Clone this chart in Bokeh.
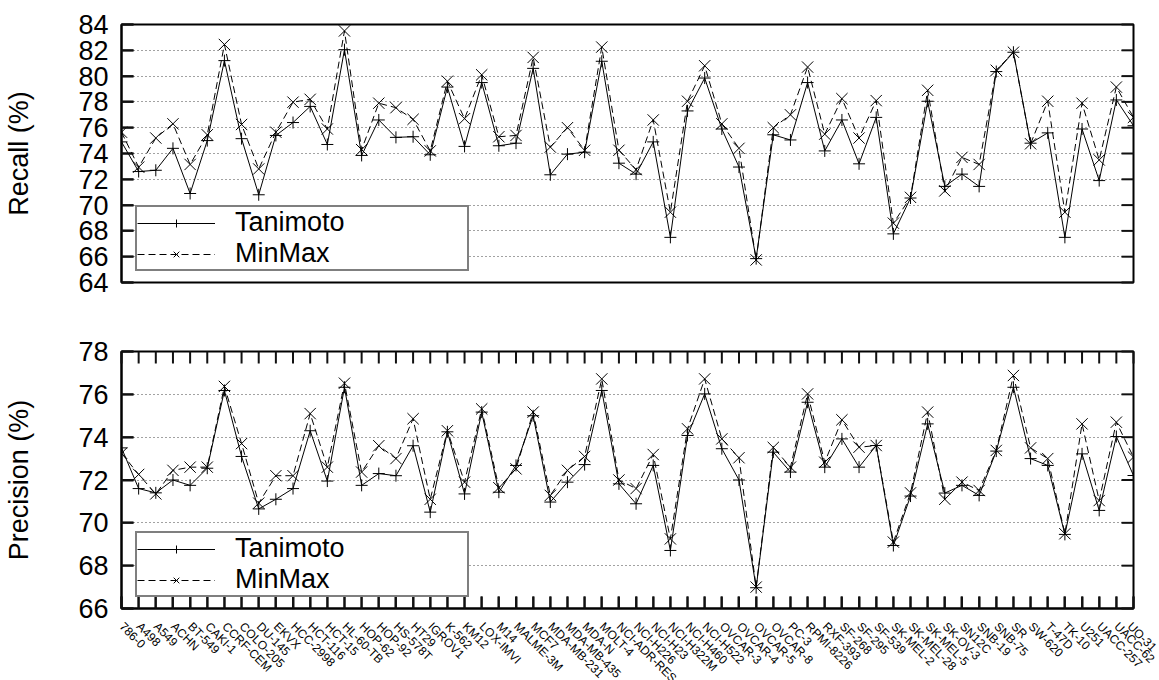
import math
from bokeh.plotting import figure
from bokeh.models import Range1d, FixedTicker, Legend, LegendItem
from bokeh.layouts import column
from bokeh.embed import file_html
from bokeh.resources import INLINE

cell_lines = [
    "786-0", "A498", "A549", "ACHN", "BT-549", "CAKI-1", "CCRF-CEM", "COLO-205",
    "DU-145", "EKVX", "HCC-2998", "HCT-116", "HCT-15", "HL-60-TB", "HOP-62",
    "HOP-92", "HS-578T", "HT29", "IGROV1", "K-562", "KM12", "LOX-IMVI", "M14",
    "MALME-3M", "MCF7", "MDA-MB-231", "MDA-MB-435", "MDA-N", "MOLT-4",
    "NCI-ADR-RES", "NCI-H226", "NCI-H23", "NCI-H322M", "NCI-H460", "NCI-H522",
    "OVCAR-3", "OVCAR-4", "OVCAR-5", "OVCAR-8", "PC-3", "RPMI-8226", "RXF-393",
    "SF-268", "SF-295", "SF-539", "SK-MEL-2", "SK-MEL-28", "SK-MEL-5", "SK-OV-3",
    "SN12C", "SNB-19", "SNB-75", "SR", "SW-620", "T-47D", "TK-10", "U251",
    "UACC-257", "UACC-62", "UO-31",
]

recall_tanimoto = [
    74.9, 72.6, 72.7, 74.4, 70.9, 75.0, 81.2, 75.15, 70.8, 75.4,
    76.4, 77.65, 74.7, 82.05, 73.85, 76.6, 75.25, 75.3, 73.9, 79.15,
    74.55, 79.5, 74.6, 74.8, 80.6, 72.35, 73.95, 74.1, 81.15, 73.25,
    72.4, 74.9, 67.5, 77.3, 79.85, 75.9, 72.95, 65.85, 75.45, 75.05,
    79.5, 74.2, 76.6, 73.2, 76.8, 67.77, 70.55, 78.05, 71.45, 72.4,
    71.45, 80.35, 81.85, 74.8, 75.6, 67.5, 75.9, 71.9, 78.15, 76.15,
]
recall_minmax = [
    75.65, 72.94, 75.2, 76.3, 73.15, 75.45, 82.45, 76.25, 72.8, 75.65,
    77.98, 78.2, 75.9, 83.5, 74.3, 77.9, 77.55, 76.65, 74.2, 79.6,
    76.7, 80.1, 75.3, 75.4, 81.45, 74.5, 76.0, 74.25, 82.25, 74.25,
    72.75, 76.6, 69.45, 78.05, 80.8, 76.3, 74.4, 65.75, 76.0, 77.0,
    80.7, 75.5, 78.25, 75.2, 78.1, 68.6, 70.6, 78.9, 71.1, 73.7,
    73.15, 80.45, 81.85, 74.75, 78.05, 69.45, 77.9, 73.5, 79.15, 76.8,
]
precision_tanimoto = [
    73.5, 71.6, 71.4, 72.0, 71.75, 72.55, 76.18, 73.1, 70.65, 71.1,
    71.6, 74.3, 71.95, 76.33, 71.75, 72.3, 72.2, 73.6, 70.5, 74.25,
    71.35, 75.17, 71.43, 72.68, 75.0, 70.97, 71.9, 72.72, 76.18, 71.82,
    70.89, 72.68, 68.71, 74.08, 76.02, 73.46, 72.0, 66.97, 73.3, 72.37,
    75.63, 72.6, 73.92, 72.6, 73.61, 68.94, 71.25, 74.62, 71.39, 71.75,
    71.28, 73.35, 76.33, 73.0, 72.68, 69.46, 73.22, 70.58, 74.03, 72.21,
]
precision_minmax = [
    73.25, 72.26, 71.35, 72.45, 72.6, 72.6, 76.37, 73.7, 70.92, 72.2,
    72.2, 75.1, 72.6, 76.52, 72.37, 73.6, 73.0, 74.86, 71.1, 74.3,
    71.9, 75.32, 71.64, 72.52, 75.17, 71.28, 72.45, 73.1, 76.72, 72.0,
    71.6, 73.19, 69.25, 74.39, 76.72, 73.92, 73.04, 67.0, 73.52, 72.6,
    76.02, 72.83, 74.81, 73.53, 73.61, 69.1, 71.4, 75.17, 71.1, 71.9,
    71.51, 73.38, 76.88, 73.5, 73.0, 69.49, 74.62, 71.04, 74.7, 73.07,
]

recall_ticks = [64, 66, 68, 70, 72, 74, 76, 78, 80, 82, 84]
precision_ticks = [66, 68, 70, 72, 74, 76, 78]

x_idx = list(range(len(cell_lines)))
FONT = "Liberation Sans"
BIG = "27px"
TICK_LEN = 12
TICK_W = 2
TICK_COLOR = "#111111"
RAY = dict(length=TICK_LEN, length_units="screen", line_color=TICK_COLOR,
           line_width=TICK_W, level="overlay")


def tick_axis(ax):
    ax.major_tick_in = TICK_LEN
    ax.major_tick_out = 0
    ax.major_tick_line_color = TICK_COLOR
    ax.major_tick_line_width = TICK_W
    ax.minor_tick_line_color = None
    ax.axis_line_color = "black"
    ax.axis_line_width = 2


def make_panel(ylabel, ylo, yhi, yticks, tani, minmax, frame_h, top_b, bottom_b, with_x):
    x_first, x_last = x_idx[0], x_idx[-1]
    p = figure(
        frame_width=1012, frame_height=frame_h,
        min_border_left=121, min_border_right=26,
        min_border_top=top_b, min_border_bottom=bottom_b,
        x_range=Range1d(x_first, x_last), y_range=Range1d(ylo, yhi),
        x_axis_location="below" if with_x else None,
        output_backend="svg", toolbar_location=None,
    )
    p.outline_line_color = "black"
    p.outline_line_width = 2
    p.xgrid.visible = False
    p.ygrid.ticker = FixedTicker(ticks=yticks)
    p.ygrid.grid_line_color = "#444444"
    p.ygrid.grid_line_dash = "1 3"
    p.ygrid.grid_line_width = 1

    yax = p.yaxis[0]
    yax.ticker = FixedTicker(ticks=yticks)
    tick_axis(yax)
    yax.major_label_text_font = FONT
    yax.major_label_text_font_size = BIG
    yax.major_label_text_color = "black"
    yax.major_label_standoff = 13
    yax.axis_label = ylabel
    yax.axis_label_text_font = FONT
    yax.axis_label_text_font_size = BIG
    yax.axis_label_text_font_style = "normal"
    yax.axis_label_text_color = "black"
    yax.axis_label_standoff = 41

    l1 = p.line(x_idx, tani, line_color="black", line_width=1)
    s1 = p.scatter(x_idx, tani, marker="cross", size=12, line_color="black", line_width=1)
    l2 = p.line(x_idx, minmax, line_color="black", line_width=1, line_dash="7 4")
    s2 = p.scatter(x_idx, minmax, marker="x", size=16, line_color="black", line_width=1)

    # inward tick marks on left and right edges
    p.ray([x_first] * len(yticks), yticks, angle=0, **RAY)
    p.ray([x_last] * len(yticks), yticks, angle=math.pi, **RAY)

    if with_x:
        xax = p.xaxis[0]
        xax.ticker = FixedTicker(ticks=x_idx)
        xax.major_label_overrides = {i: n for i, n in enumerate(cell_lines)}
        xax.major_label_orientation = -math.pi / 4
        xax.major_label_text_font = FONT
        xax.major_label_text_font_size = "12px"
        xax.major_label_text_color = "black"
        xax.major_label_standoff = 16
        tick_axis(xax)
        # inward tick marks on bottom and top edges
        p.ray(x_idx, [ylo] * len(x_idx), angle=math.pi / 2, **RAY)
        p.ray(x_idx, [yhi] * len(x_idx), angle=-math.pi / 2, **RAY)

    legend = Legend(
        items=[LegendItem(label="Tanimoto", renderers=[l1, s1]),
               LegendItem(label="MinMax", renderers=[l2, s2])],
        location=(14, 11),
        margin=0, padding=0, spacing=0,
        glyph_width=78, glyph_height=20, label_standoff=20,
        label_width=232, label_height=20,
        label_text_font=FONT, label_text_font_size=BIG, label_text_color="black",
        label_text_line_height=0.95,
        border_line_color="black", border_line_width=2,
        background_fill_color="white", background_fill_alpha=1.0,
    )
    p.add_layout(legend, "center")
    return p


p1 = make_panel("Recall (%)", 64, 84, recall_ticks, recall_tanimoto, recall_minmax,
                258, 24, 20, False)
p2 = make_panel("Precision (%)", 66, 78, precision_ticks, precision_tanimoto, precision_minmax,
                257, 49, 70, True)

layout = column(p1, p2, spacing=0)
open("out.html", "w").write(file_html(layout, INLINE))
